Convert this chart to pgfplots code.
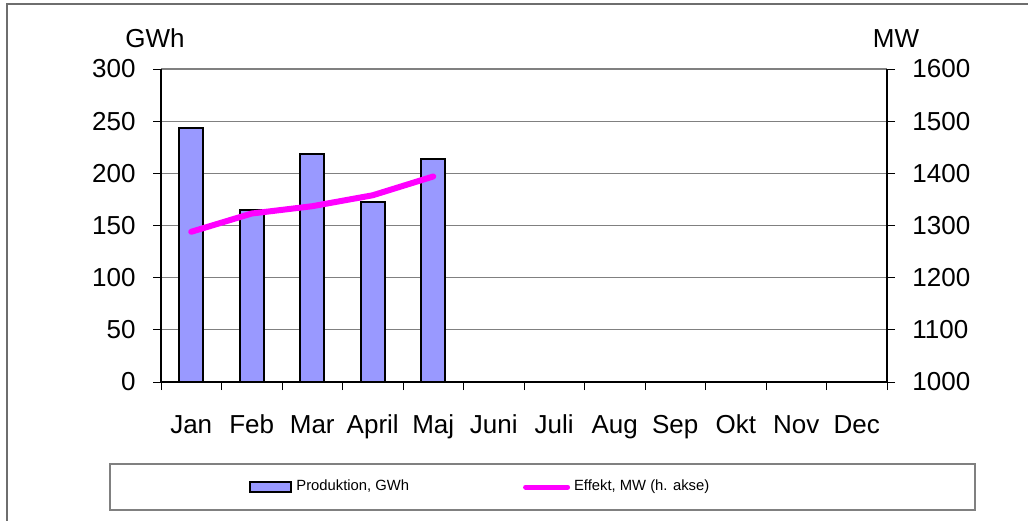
\documentclass[border=0pt]{standalone}
\usepackage{pgfplots}
\pgfplotsset{compat=1.18}
\usepackage{fontspec}
\setmainfont{Liberation Sans}
\definecolor{barblue}{RGB}{153,153,255}
\definecolor{magline}{RGB}{255,0,255}
\definecolor{gridgray}{RGB}{128,128,128}
\definecolor{framegray}{RGB}{110,110,110}
\pgfplotsset{
 barleg/.style={legend image code/.code={\draw[##1] (0pt,-2.5pt) rectangle (20.5pt,2.5pt);}},
 lineleg/.style={legend image code/.code={\draw[##1,line width=2.5pt] (0pt,0pt) -- (21pt,0pt);}},
}

\begin{document}
\begin{tikzpicture}
\pgfplotsset{
 common/.style={
  scale only axis, width=363pt, height=156.5pt,
  at={(80.5pt,-191pt)}, anchor=south west,
  xmin=-0.5, xmax=11.5,
  tick align=outside, major tick length=4pt,
  axis line style={-,black,line width=0.6pt},
  tick style={black,line width=0.5pt},
  /pgf/number format/assume math mode=true,
  /pgf/number format/1000 sep={},
  tick label style={font=\fontsize{13}{15}\selectfont},
 }
}
\begin{axis}[common,
  ymin=0, ymax=300, ytick={0,50,...,300},
  axis x line*=bottom, axis y line*=left,
  ymajorgrids, grid style={gridgray,line width=0.6pt},
  xtick={-0.5,0.5,...,11.5}, xticklabels={},
  extra x ticks={0,1,2,3,4,5,6,7,8,9,10,11},
  extra x tick labels={Jan,Feb,Mar,April,Maj,Juni,Juli,Aug,Sep,Okt,Nov,Dec},
  extra x tick style={major tick length=0pt, tick label style={anchor=base, yshift=-25.5pt}},
  yticklabel style={inner xsep=0pt, xshift=-8.5pt},
  ybar, bar width=12pt,
]
\addplot[draw=black, fill=barblue, line width=1pt, bar shift=0pt]
  coordinates {(0,243) (1,165) (2,219) (3,173) (4,214)};
\end{axis}
\begin{axis}[common,
  ymin=1000, ymax=1600, ytick={1000,1100,...,1600},
  axis y line*=right, axis x line=none,
  yticklabel style={inner xsep=0pt, xshift=8.5pt},
  legend columns=2,
  legend style={draw=none, fill=none, at={(0.1212,-0.3355)}, anchor=west, inner sep=0pt,
    font=\fontsize{7.4}{9}\selectfont,
    /tikz/every even column/.append style={column sep=55pt}},
]
\addlegendimage{draw=black, fill=barblue, line width=1pt, barleg}
\addlegendentry{Produktion, GWh}
\addplot[magline, line width=3pt, line cap=round, line join=round, lineleg]
  coordinates {(0,1288) (1,1323) (2,1337) (3,1358) (4,1394)};
\addlegendentry{Effekt, MW (h. akse)}
\end{axis}
\node[font=\fontsize{13}{15}\selectfont, anchor=base] at (77.5pt,-23.5pt) {GWh};
\node[font=\fontsize{13}{15}\selectfont, anchor=base] at (448pt,-23.5pt) {MW};
\draw[gridgray, line width=0.6pt] (55pt,-232pt) rectangle (487.5pt,-255pt);
\draw[framegray, line width=0.7pt] (3.5pt,-270pt) -- (3.5pt,-2pt) -- (530pt,-2pt);
\pgfresetboundingbox
\path[use as bounding box] (0pt,0pt) rectangle (514pt,-260pt);
\end{tikzpicture}
\end{document}
